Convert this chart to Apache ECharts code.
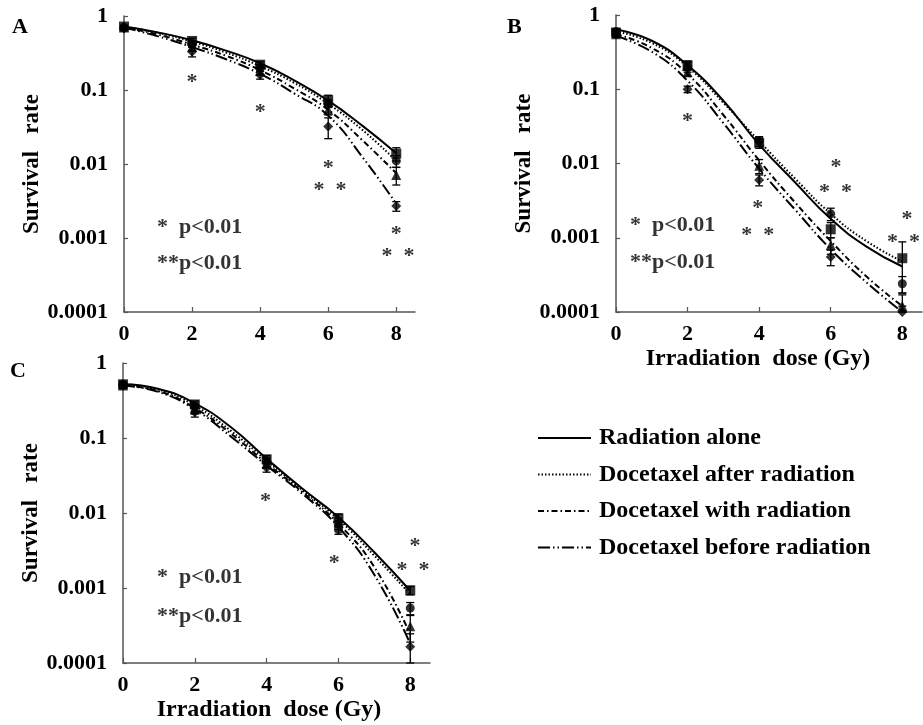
<!DOCTYPE html>
<html><head><meta charset="utf-8">
<script src="https://cdn.jsdelivr.net/npm/echarts@6/dist/echarts.min.js"></script>
<style>html,body{margin:0;padding:0;background:#fff}#c{width:923px;height:725px}</style>
</head><body><div id="c"></div>
<script>
// ---------- shared ----------
const doses = [0, 2, 4, 6, 8];
const curveDoses = [0, 1, 2, 3, 4, 5, 6, 7, 8];
const seriesNames = ['Radiation alone', 'Docetaxel after radiation', 'Docetaxel with radiation', 'Docetaxel before radiation'];
const xTickValues = [0, 2, 4, 6, 8];
const yTickLabels = ['0.0001', '0.001', '0.01', '0.1', '1'];
const panelLetters = ['A', 'B', 'C'];

// ---------- panel A ----------
const aRadMean = [0.72, 0.46, 0.22, 0.073, 0.0138];
const aRadErr = [0.03, 0.04, 0.02, 0.012, 0.0028];
const aAfterMean = [0.70, 0.42, 0.20, 0.066, 0.011];
const aAfterErr = [0.03, 0.04, 0.02, 0.008, 0.002];
const aWithMean = [0.70, 0.38, 0.18, 0.054, 0.0071];
const aWithErr = [0.03, 0.04, 0.02, 0.008, 0.0019];
const aBeforeMean = [0.68, 0.33, 0.16, 0.032, 0.0027];
const aBeforeErr = [0.03, 0.05, 0.02, 0.010, 0.0004];
const aRadCurve = [0.72, 0.60, 0.47, 0.34, 0.23, 0.135, 0.072, 0.033, 0.014];
const aAfterCurve = [0.72, 0.59, 0.45, 0.32, 0.21, 0.125, 0.065, 0.029, 0.011];
const aWithCurve = [0.70, 0.56, 0.41, 0.29, 0.185, 0.105, 0.054, 0.021, 0.0075];
const aBeforeCurve = [0.70, 0.53, 0.38, 0.26, 0.165, 0.09, 0.045, 0.0125, 0.0029];
const aStars = [[2, 0.15, '*'], [4, 0.058, '*'], [6, 0.0103, '*'], [6.05, 0.0052, '*  *'], [8, 0.0013, '*'], [8.05, 0.00067, '*  *']];
const aNotes = [[0.97, 0.0014, '*  p<0.01'], [0.97, 0.00045, '**p<0.01']];

// ---------- panel B ----------
const bRadMean = [0.58, 0.21, 0.019, 0.0013, 0.00053];
const bRadErr = [0.05, 0.03, 0.003, 0.0003, 0.00035];
const bAfterMean = [0.60, 0.20, 0.020, 0.0021, 0.00024];
const bAfterErr = [0.05, 0.03, 0.003, 0.0004, 0.00006];
const bWithMean = [0.55, 0.17, 0.0093, 0.0008, 0.00012];
const bWithErr = [0.05, 0.02, 0.002, 0.0002, 0.00005];
const bBeforeMean = [0.55, 0.10, 0.006, 0.00055, 0.0001];
const bBeforeErr = [0.05, 0.01, 0.001, 0.00013, 0.00002];
const bRadCurve = [0.64, 0.45, 0.21, 0.07, 0.018, 0.0056, 0.0018, 0.00076, 0.00041];
const bAfterCurve = [0.60, 0.42, 0.20, 0.066, 0.020, 0.0063, 0.0021, 0.0009, 0.00048];
const bWithCurve = [0.55, 0.36, 0.16, 0.045, 0.011, 0.003, 0.0009, 0.0003, 0.00012];
const bBeforeCurve = [0.52, 0.32, 0.13, 0.035, 0.0085, 0.0024, 0.0007, 0.00025, 0.0001];
const bStars = [[2.0, 0.043, '*'], [3.96, 0.0029, '*'], [3.96, 0.00126, '*  *'], [6.15, 0.0105, '*'], [6.13, 0.0048, '*  *'], [8.13, 0.0021, '*'], [8.03, 0.001, '*  *']];
const bNotes = [[0.39, 0.00148, '*  p<0.01'], [0.39, 0.00046, '**p<0.01']];

// ---------- panel C ----------
const cRadMean = [0.52, 0.28, 0.052, 0.0085, 0.00093];
const cRadErr = [0.04, 0.03, 0.006, 0.0012, 0.00012];
const cAfterMean = [0.52, 0.26, 0.048, 0.006, 0.00054];
const cAfterErr = [0.04, 0.03, 0.006, 0.0008, 0.0001];
const cWithMean = [0.50, 0.24, 0.045, 0.0075, 0.00031];
const cWithErr = [0.04, 0.03, 0.005, 0.001, 0.00012];
const cBeforeMean = [0.50, 0.22, 0.040, 0.007, 0.000165];
const cBeforeErr = [0.04, 0.03, 0.005, 0.001, 0.00008];
const cRadCurve = [0.52, 0.45, 0.29, 0.14, 0.053, 0.021, 0.0088, 0.003, 0.00092];
const cAfterCurve = [0.52, 0.44, 0.27, 0.125, 0.050, 0.020, 0.0082, 0.0027, 0.00082];
const cWithCurve = [0.50, 0.42, 0.25, 0.115, 0.046, 0.019, 0.0072, 0.0019, 0.00024];
const cBeforeCurve = [0.50, 0.41, 0.24, 0.105, 0.043, 0.018, 0.0065, 0.0015, 0.00018];
const cStars = [[3.97, 0.0165, '*'], [5.88, 0.0025, '*'], [8.13, 0.0042, '*'], [8.08, 0.002, '*  *']];
const cNotes = [[0.95, 0.0014, '*  p<0.01'], [0.95, 0.00042, '**p<0.01']];

// ---------- build ----------
const panels = [
  { means: [aRadMean, aAfterMean, aWithMean, aBeforeMean], errs: [aRadErr, aAfterErr, aWithErr, aBeforeErr],
    curves: [aRadCurve, aAfterCurve, aWithCurve, aBeforeCurve], stars: aStars, notes: aNotes, xName: '' },
  { means: [bRadMean, bAfterMean, bWithMean, bBeforeMean], errs: [bRadErr, bAfterErr, bWithErr, bBeforeErr],
    curves: [bRadCurve, bAfterCurve, bWithCurve, bBeforeCurve], stars: bStars, notes: bNotes, xName: 'Irradiation  dose (Gy)' },
  { means: [cRadMean, cAfterMean, cWithMean, cBeforeMean], errs: [cRadErr, cAfterErr, cWithErr, cBeforeErr],
    curves: [cRadCurve, cAfterCurve, cWithCurve, cBeforeCurve], stars: cStars, notes: cNotes, xName: 'Irradiation  dose (Gy)' }
];

const FONT = '"Liberation Serif", "Times New Roman", serif';
const INK = '#000';
const AXIS = '#555';
const dashes = ['solid', [1.5, 2], [6, 3, 1.5, 3], [12, 3, 1.5, 3, 1.5, 3]];
const symbols = ['rect', 'circle', 'triangle', 'diamond'];
const symbolSizes = [10, 9, 10, 10];
const YMIN = 0.0001, XMAX = 8.55;

const grids = [
  { left: 124, top: 16, width: 291, height: 296 },
  { left: 616, top: 15, width: 306, height: 297 },
  { left: 123, top: 363, width: 307, height: 300 }
];
const xNamePads = [0, [0, 22, 0, 0], [0, 15, 0, 0]];

const xAxes = [], yAxes = [], series = [];
panels.forEach((p, i) => {
  xAxes.push({
    type: 'value', gridIndex: i, min: 0, max: XMAX,
    name: p.xName, nameLocation: 'middle', nameGap: 35,
    nameTextStyle: { fontFamily: FONT, fontWeight: 'bold', fontSize: 24, color: INK, padding: xNamePads[i] },
    axisLine: { show: true, lineStyle: { color: AXIS, width: 1.5 } },
    axisTick: { show: true, inside: true, length: 5, customValues: xTickValues, lineStyle: { color: AXIS, width: 1.2 } },
    axisLabel: { customValues: xTickValues, margin: 11, fontFamily: FONT, fontWeight: 'bold', fontSize: 22, color: INK },
    splitLine: { show: false }
  });
  yAxes.push({
    type: 'log', logBase: 10, gridIndex: i, min: YMIN, max: 1,
    name: 'Survival   rate', nameLocation: 'middle', nameGap: 79,
    nameTextStyle: { fontFamily: FONT, fontWeight: 'bold', fontSize: 23, color: INK },
    axisLine: { show: true, lineStyle: { color: AXIS, width: 1.5 } },
    axisTick: { show: true, inside: true, length: 4, lineStyle: { color: AXIS, width: 1.2 } },
    axisLabel: {
      margin: 16, fontFamily: FONT, fontWeight: 'bold', fontSize: 22, color: INK,
      formatter: v => yTickLabels[Math.round(Math.log10(v)) + 4] || ''
    },
    splitLine: { show: false }, minorTick: { show: false }
  });

  // fitted curves
  p.curves.forEach((c, s) => {
    series.push({
      type: 'line', name: seriesNames[s], xAxisIndex: i, yAxisIndex: i,
      data: curveDoses.map((d, k) => [d, c[k]]),
      smooth: 0.5, symbol: 'none', silent: true, z: 2,
      itemStyle: { color: INK },
      lineStyle: { color: INK, width: 2, type: dashes[s] }
    });
  });
  // error bars
  const errData = [];
  p.means.forEach((m, s) => {
    m.forEach((v, k) => {
      errData.push([doses[k], Math.max(v - p.errs[s][k], YMIN), v + p.errs[s][k]]);
    });
  });
  series.push({
    type: 'custom', name: 'err' + i, xAxisIndex: i, yAxisIndex: i, silent: true, z: 3,
    data: errData,
    renderItem: (params, api) => {
      const x = api.value(0);
      const lo = api.coord([x, api.value(1)]);
      const hi = api.coord([x, api.value(2)]);
      const w = 4;
      const st = { stroke: INK, lineWidth: 1.3 };
      return { type: 'group', children: [
        { type: 'line', shape: { x1: hi[0], y1: hi[1], x2: lo[0], y2: lo[1] }, style: st },
        { type: 'line', shape: { x1: hi[0] - w, y1: hi[1], x2: hi[0] + w, y2: hi[1] }, style: st },
        { type: 'line', shape: { x1: lo[0] - w, y1: lo[1], x2: lo[0] + w, y2: lo[1] }, style: st }
      ] };
    }
  });
  // mean markers
  p.means.forEach((m, s) => {
    series.push({
      type: 'scatter', name: seriesNames[s] + ' (mean)', xAxisIndex: i, yAxisIndex: i,
      data: doses.map((d, k) => [d, m[k]]),
      symbol: symbols[s], symbolSize: symbolSizes[s], silent: true, z: 4,
      itemStyle: { color: INK }
    });
  });
  // asterisks
  series.push({
    type: 'scatter', name: 'stars' + i, xAxisIndex: i, yAxisIndex: i, silent: true, z: 5,
    symbolSize: 0,
    data: p.stars.map(a => ({ value: [a[0], a[1]], name: a[2] })),
    label: { show: true, position: 'inside', formatter: '{b}', offset: [0, 5],
      fontFamily: FONT, fontWeight: 'bold', fontSize: 22, color: INK }
  });
  // p-value notes
  series.push({
    type: 'scatter', name: 'notes' + i, xAxisIndex: i, yAxisIndex: i, silent: true, z: 5,
    symbolSize: 0,
    data: p.notes.map(a => ({ value: [a[0], a[1]], name: a[2] })),
    label: { show: true, position: 'inside', align: 'left', formatter: '{b}',
      fontFamily: FONT, fontWeight: 'bold', fontSize: 22, color: INK }
  });
});

const chart = echarts.init(document.getElementById('c'), null, { renderer: 'canvas' });
chart.setOption({
  backgroundColor: '#fff',
  animation: false,
  grid: grids,
  xAxis: xAxes,
  yAxis: yAxes,
  legend: {
    data: seriesNames, orient: 'vertical', left: 532, top: 421,
    itemWidth: 53, itemHeight: 14, itemGap: 12.5, selectedMode: false,
    itemStyle: { color: 'rgba(0,0,0,0)', borderWidth: 0, opacity: 0 },
    textStyle: { fontFamily: FONT, fontWeight: 'bold', fontSize: 24, color: INK, lineHeight: 24, padding: [0, 0, 0, 3] }
  },
  graphic: panelLetters.map((t, i) => ({
    type: 'text', left: [12, 507, 10][i], top: [16, 16, 360][i],
    style: { text: t, font: 'bold 22px ' + FONT, fill: INK }
  })),
  series: series
});
</script>
</body></html>
